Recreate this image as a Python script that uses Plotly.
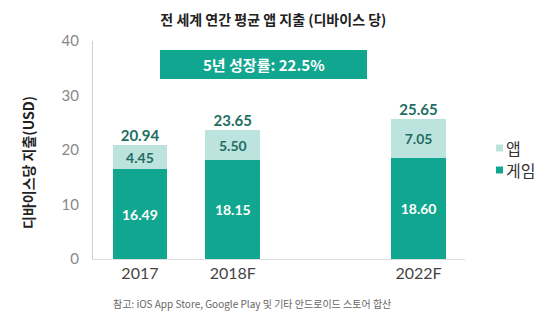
import plotly.graph_objects as go

categories = ["2017", "2018F", "2022F"]
positions = [0, 1, 3]
game = [16.49, 18.15, 18.60]
app = [4.45, 5.50, 7.05]
totals = [20.94, 23.65, 25.65]

DARK = "#11a690"
LIGHT = "#bce3de"
FONT = "Noto Sans CJK KR"
NUMFONT = "Lato, Noto Sans CJK KR"

PW, PH, PL, PB = 372, 218, 93, 259


def px(x):
    return (x - PL) / PW


def py(y):
    return (PB - y) / PH


fig = go.Figure()
fig.add_trace(go.Bar(
    x=positions, y=game, name="게임", marker=dict(color=DARK, line=dict(width=0)),
    width=0.59, text=[f"<b>{v:.2f}</b>" for v in game], textposition="inside",
    insidetextanchor="middle", showlegend=False,
    textfont=dict(color="white", size=14, family=NUMFONT), hoverinfo="skip",
))
fig.add_trace(go.Bar(
    x=positions, y=app, name="앱", marker=dict(color=LIGHT, line=dict(width=0)),
    width=0.59, text=[f"<b>{v:.2f}</b>" for v in app], textposition="inside",
    insidetextanchor="middle", showlegend=False,
    textfont=dict(color="#1e6e62", size=14, family=NUMFONT), hoverinfo="skip",
))
fig.add_trace(go.Scatter(
    x=positions, y=totals, mode="text", text=[f"<b>{v:.2f}</b>" for v in totals],
    textposition="top center", showlegend=False,
    textfont=dict(color="#1e6e62", size=15, family=NUMFONT), hoverinfo="skip",
))

legend_items = [("앱", LIGHT, 148), ("게임", DARK, 170)]
shapes = [dict(type="rect", xref="paper", yref="paper",
               x0=px(160), x1=px(367), y0=py(79), y1=py(50),
               fillcolor=DARK, line=dict(width=0), layer="above")]
annotations = [
    dict(text="<b>5년 성장률: 22.5%</b>", xref="paper", yref="paper",
         x=px(263.5), y=py(64.5), showarrow=False,
         font=dict(size=15, color="white", family=FONT),
         xanchor="center", yanchor="middle"),
    dict(text="<b>디바이스당 지출(USD)</b>", xref="paper", yref="paper",
         x=px(28), y=py(163), textangle=-90, showarrow=False,
         xanchor="center", yanchor="middle",
         font=dict(size=14, color="#222", family=FONT)),
    dict(text="참고: iOS App Store, Google Play 및 기타 안드로이드 스토어 합산",
         xref="paper", yref="paper", x=px(111), y=py(303),
         showarrow=False, xanchor="left", yanchor="middle",
         font=dict(size=10, color="#666", family=FONT)),
]
for name, color, yc in legend_items:
    shapes.append(dict(type="rect", xref="paper", yref="paper",
                       x0=px(496), x1=px(503), y0=py(yc + 3.5), y1=py(yc - 3.5),
                       fillcolor=color, line=dict(width=0)))
    annotations.append(dict(text=name, xref="paper", yref="paper",
                            x=px(504), y=py(yc), showarrow=False,
                            xanchor="left", yanchor="middle",
                            font=dict(size=16, color="#333", family=FONT)))

fig.update_layout(
    width=550, height=330, barmode="stack",
    margin=dict(l=93, r=85, t=41, b=71),
    plot_bgcolor="white", paper_bgcolor="white",
    font=dict(family=FONT, color="#555"),
    showlegend=False,
    title=dict(text="<b>전 세계 연간 평균 앱 지출 (디바이스 당)</b>", x=0.497, xanchor="center",
               y=0.94, yanchor="middle", font=dict(size=14, color="#222", family=FONT)),
    xaxis=dict(range=[-0.505, 3.5], tickvals=positions, ticktext=categories,
               showgrid=False, zeroline=False, showline=True, linecolor="#dddddd",
               tickfont=dict(size=16, color="#444", family=NUMFONT), ticks=""),
    yaxis=dict(range=[0, 40], tickvals=[0, 10, 20, 30, 40], showgrid=False,
               zeroline=False, showline=True, linecolor="#d0d0d0",
               tickfont=dict(size=15, color="#888", family=NUMFONT), ticks="",
               ticklabelstandoff=10),
    shapes=shapes,
    annotations=annotations,
)

fig.write_html("out.html")
